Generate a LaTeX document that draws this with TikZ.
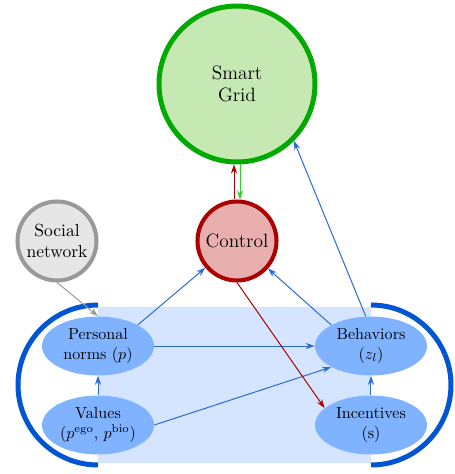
\documentclass[tikz,border=0pt]{standalone}
\usetikzlibrary{shapes.geometric,arrows.meta}
\definecolor{sgfill}{HTML}{C6E9B4}
\definecolor{sgline}{HTML}{00AA00}
\definecolor{ctfill}{HTML}{E9AFAF}
\definecolor{ctline}{HTML}{AA0000}
\definecolor{sofill}{HTML}{E6E6E6}
\definecolor{soline}{HTML}{999999}
\definecolor{elfill}{HTML}{80B3FF}
\definecolor{rcfill}{HTML}{D5E5FF}
\definecolor{arcline}{HTML}{0055D4}
\definecolor{arrblue}{HTML}{2A6AD4}
\definecolor{arrgreen}{HTML}{33CC33}
\def\u{0.621pt}
\tikzset{
  bignode/.style={circle, align=center, inner sep=0pt},
  ellnode/.style={ellipse, fill=elfill, align=center, inner sep=0pt, minimum width=112*\u, minimum height=59*\u},
  arr/.style={line width=0.62pt, -{Stealth[length=5.6pt,width=3.8pt]}},
  bluearr/.style={arr, draw=arrblue},
  redarr/.style={arr, draw=ctline},
  greenarr/.style={arr, draw=arrgreen},
  grayarr/.style={arr, draw=soline},
}
\begin{document}
\begin{tikzpicture}[x=0.621pt,y=0.621pt]
\useasboundingbox (0,0) rectangle (455,474);
\fill[rcfill] (98,11) rectangle (371,167);
\draw[arcline, line width=3.1pt] (98,169) arc[start angle=90,end angle=270,radius=80];
\draw[arcline, line width=3.1pt] (371,169) arc[start angle=90,end angle=-90,radius=80];

\node[bignode, draw=sgline, fill=sgfill, line width=3.1pt, minimum size=156*\u, font=\large] (sg) at (237,390) {Smart\\Grid};
\node[bignode, draw=ctline, fill=ctfill, line width=2.5pt, minimum size=79*\u, font=\large] (ctrl) at (237,233) {Control};
\node[bignode, draw=soline, fill=sofill, line width=2.5pt, minimum size=79*\u, font={\fontsize{10.9}{13.5}\selectfont}] (soc) at (57,233) {Social\\network};

\node[ellnode] (pn) at (98,128) {Personal\\norms ($p$)};
\node[ellnode] (val) at (98,49) {Values\\($p^{\mathrm{ego}}$, $p^{\mathrm{bio}}$)};
\node[ellnode] (beh) at (371,128) {Behaviors\\($z_l$)};
\node[ellnode] (inc) at (371,49) {Incentives\\(s)};

\draw[bluearr] (pn.north east) -- (ctrl);
\draw[bluearr] (beh.north west) -- (ctrl);
\draw[bluearr] (beh.100) -- (sg.south east);
\draw[bluearr] (pn.east) -- (beh.west);
\draw[bluearr] (val.east) -- (beh.south west);
\draw[bluearr] (val.north) -- (pn.south);
\draw[bluearr] (inc.north) -- (beh.south);
\draw[redarr] (ctrl.south) -- (inc.160);
\draw[grayarr] (soc.south) -- (pn.north);
\draw[redarr] ([xshift=-3*\u]ctrl.north) -- ([xshift=-3*\u]sg.south);
\draw[greenarr] ([xshift=3*\u]sg.south) -- ([xshift=3*\u]ctrl.north);
\end{tikzpicture}
\end{document}
